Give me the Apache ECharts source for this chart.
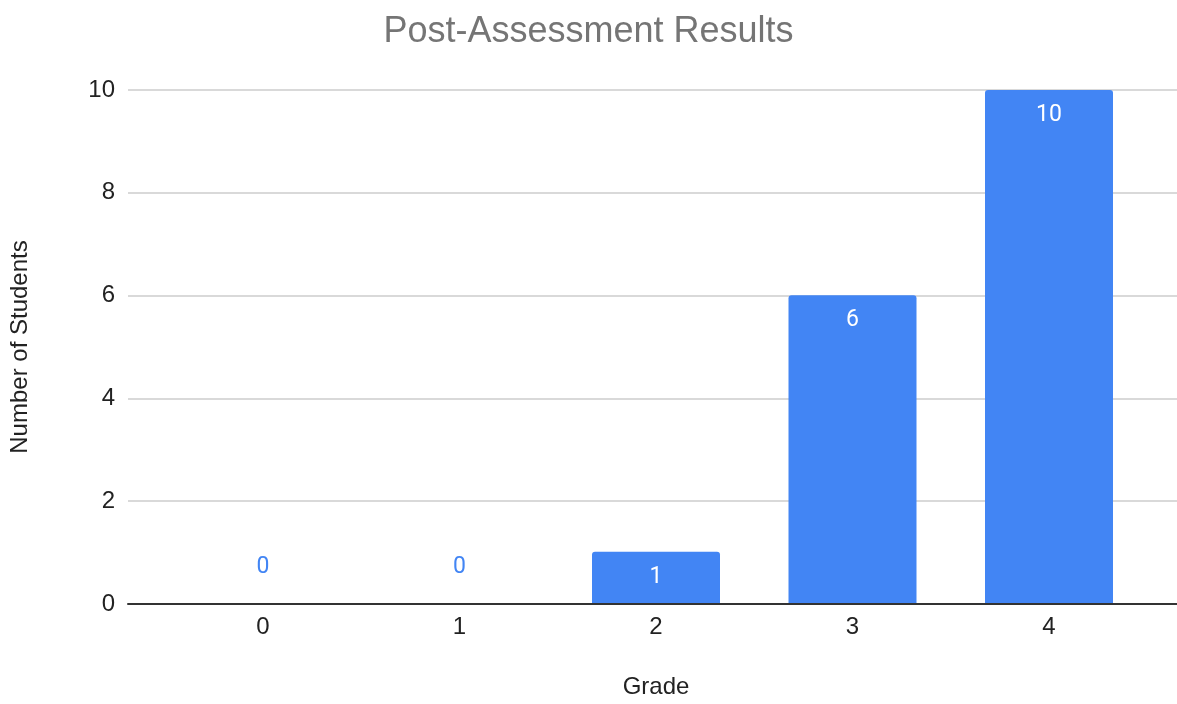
<!DOCTYPE html>
<html>
<head>
<meta charset="utf-8">
<title>Post-Assessment Results</title>
<script src="https://cdn.jsdelivr.net/npm/echarts@6/dist/echarts.min.js"></script>
<style>
  html, body { margin: 0; padding: 0; background: #ffffff; }
  #chart { width: 1177px; height: 704px; }
</style>
</head>
<body>
<div id="chart"></div>
<script>
// Grade categories and number of students per grade
const grades = ['0', '1', '2', '3', '4'];
const students = [0, 0, 1, 6, 10];
const yTicks = [0, 2, 4, 6, 8, 10];

const BLUE = '#4285f4';
const AXIS_FONT = 'Arial, "Liberation Sans", Helvetica, sans-serif';

// zero-height bars get their label above the baseline in blue
const barData = students.map(v => v === 0
  ? { value: v, label: { position: 'top', distance: 24, color: BLUE } }
  : { value: v });

const chart = echarts.init(document.getElementById('chart'), null, { renderer: 'canvas' });

chart.setOption({
  animation: false,
  backgroundColor: '#ffffff',
  title: {
    text: 'Post-Assessment Results',
    left: 'center',
    top: 9,
    textStyle: { fontFamily: AXIS_FONT, fontSize: 36, fontWeight: 'normal', color: '#757575' }
  },
  grid: [
    // full-width grid carrying gridlines, value labels and baseline
    { left: 128, right: 0, top: 90, bottom: 100 },
    // inner grid holding the category bars
    { left: 164.75, right: 29.75, top: 90, bottom: 100 }
  ],
  xAxis: [
    {
      gridIndex: 0, type: 'value', min: 0, max: 1,
      axisLine: { show: true, lineStyle: { color: '#333333', width: 2 } },
      axisTick: { show: false }, axisLabel: { show: false }, splitLine: { show: false }
    },
    {
      gridIndex: 1, type: 'category', data: grades,
      name: 'Grade', nameLocation: 'middle', nameGap: 72,
      nameTextStyle: { fontFamily: AXIS_FONT, fontSize: 24, color: '#222222' },
      axisLine: { show: false }, axisTick: { show: false },
      axisLabel: { fontFamily: AXIS_FONT, fontSize: 24, color: '#222222', margin: 12 }
    }
  ],
  yAxis: [
    {
      gridIndex: 0, type: 'value',
      min: yTicks[0], max: yTicks[yTicks.length - 1], interval: yTicks[1] - yTicks[0],
      name: 'Number of Students', nameLocation: 'middle', nameGap: 96, nameRotate: 90,
      nameTextStyle: { fontFamily: AXIS_FONT, fontSize: 24, color: '#222222' },
      axisLine: { show: false }, axisTick: { show: false },
      axisLabel: { fontFamily: AXIS_FONT, fontSize: 24, color: '#222222', margin: 13 },
      splitLine: { show: true, lineStyle: { color: '#cccccc', width: 1.5 } }
    },
    {
      gridIndex: 1, type: 'value',
      min: yTicks[0], max: yTicks[yTicks.length - 1],
      show: false, splitLine: { show: false }
    }
  ],
  series: [
    {
      type: 'bar',
      xAxisIndex: 1, yAxisIndex: 1,
      data: barData,
      barWidth: 128,
      itemStyle: { color: BLUE, borderRadius: [3, 3, 0, 0] },
      label: {
        show: true,
        position: 'insideTop',
        distance: 14,
        color: '#ffffff',
        fontFamily: 'Roboto, sans-serif',
        fontSize: 23,
        fontWeight: 'normal'
      },
      z: 3
    }
  ]
});
</script>
</body>
</html>
